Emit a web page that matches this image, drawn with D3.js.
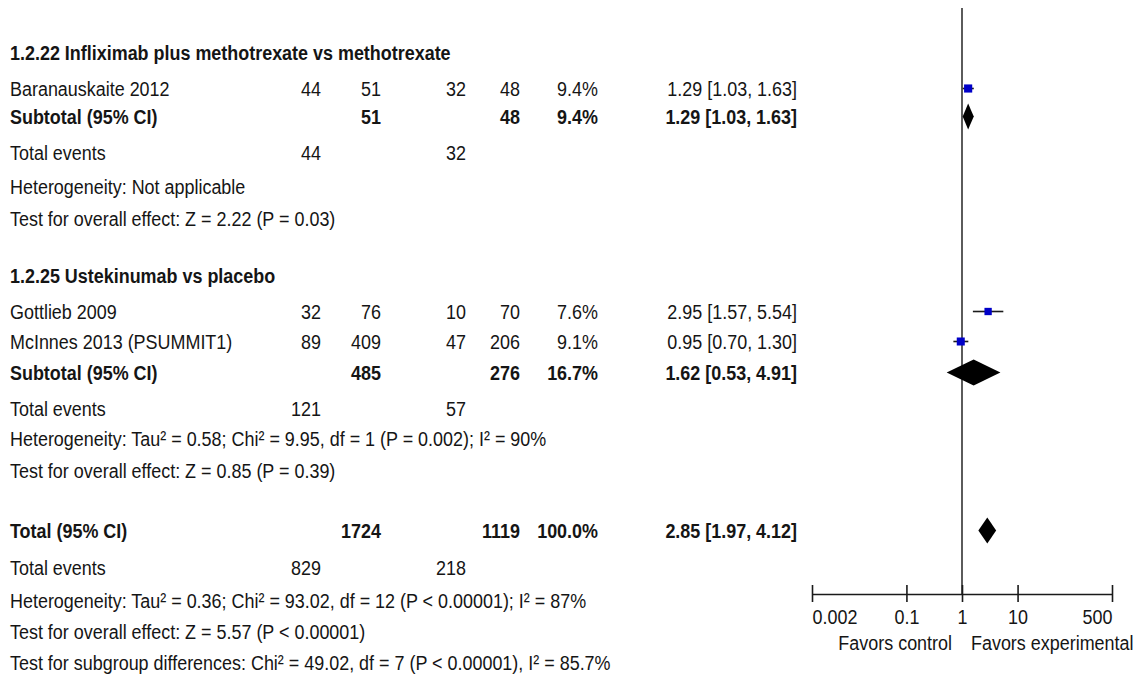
<!DOCTYPE html>
<html>
<head>
<meta charset="utf-8">
<script src="https://cdn.jsdelivr.net/npm/d3@7"></script>
<style>
  html, body { margin: 0; padding: 0; background: #fff; }
  svg { display: block; }
  text { font-family: "Liberation Sans", Arial, sans-serif; font-size: 21px; fill: #151515; }
  .b { font-weight: bold; }
</style>
</head>
<body>
<svg id="chart" width="1138" height="676"></svg>
<script>
// ---- Study-level data ----
const groupTitles = ["1.2.22 Infliximab plus methotrexate vs methotrexate", "1.2.25 Ustekinumab vs placebo"];
const studyNames  = ["Baranauskaite 2012", "Gottlieb 2009", "McInnes 2013 (PSUMMIT1)"];
const studyGroup  = [0, 1, 1];
const eventsExp   = [44, 32, 89];
const totalExp    = [51, 76, 409];
const eventsCtl   = [32, 10, 47];
const totalCtl    = [48, 70, 206];
const weights     = [9.4, 7.6, 9.1];
const studyRR     = [1.29, 2.95, 0.95];
const studyLo     = [1.03, 1.57, 0.70];
const studyHi     = [1.63, 5.54, 1.30];

// ---- Subgroup summaries ----
const subTotalExp  = [51, 485];
const subTotalCtl  = [48, 276];
const subWeight    = [9.4, 16.7];
const subRR        = [1.29, 1.62];
const subLo        = [1.03, 0.53];
const subHi        = [1.63, 4.91];
const subEventsExp = [44, 121];
const subEventsCtl = [32, 57];
const subHetText   = ["Heterogeneity: Not applicable",
                      "Heterogeneity: Tau² = 0.58; Chi² = 9.95, df = 1 (P = 0.002); I² = 90%"];
const subTestText  = ["Test for overall effect: Z = 2.22 (P = 0.03)",
                      "Test for overall effect: Z = 0.85 (P = 0.39)"];

// ---- Overall summary ----
const overallTotals = [1724, 1119];
const overallEvents = [829, 218];
const overallWeight = [100.0];
const overallRR     = [2.85, 1.97, 4.12];
const overallNotes  = ["Heterogeneity: Tau² = 0.36; Chi² = 93.02, df = 12 (P < 0.00001); I² = 87%",
                       "Test for overall effect: Z = 5.57 (P < 0.00001)",
                       "Test for subgroup differences: Chi² = 49.02, df = 7 (P < 0.00001), I² = 85.7%"];

// ---- Axis ----
const tickValues  = [0.002, 0.1, 1, 10, 500];
const tickLabels  = ["0.002", "0.1", "1", "10", "500"];
const sideLabels  = ["Favors control", "Favors experimental"];

// ---- Layout ----
const svg = d3.select("#chart");
const x = d3.scaleLog().domain([0.002, 500]).range([812, 1112]);
const sizeScale = d3.scaleSqrt().domain([0, 10]).range([0, 8.4]);
const fmtW = d => d3.format(".1f")(d) + "%";
const fmtR = (r, l, h) => `${d3.format(".2f")(r)} [${d3.format(".2f")(l)}, ${d3.format(".2f")(h)}]`;
const NARROW = 0.855;   // horizontal squeeze for a condensed sans look

// text baselines of each table line, top to bottom
const baselines = [60, 96, 124, 160, 194, 226, 283, 319, 349, 380, 416, 446, 478, 538, 575, 608, 639, 670];
const col = { name: 10, evE: 321, totE: 381, evC: 466, totC: 520, w: 598, ci: 797 };
const axisY = 594;

// assemble the table rows
const rows = [];
let li = 0;
groupTitles.forEach((title, g) => {
  rows.push({ kind: "title", y: baselines[li++], name: title });
  studyNames.forEach((n, i) => {
    if (studyGroup[i] !== g) return;
    rows.push({ kind: "study", y: baselines[li++], name: n, i });
  });
  rows.push({ kind: "sub", y: baselines[li++], g });
  rows.push({ kind: "events", y: baselines[li++], a: subEventsExp[g], b: subEventsCtl[g] });
  rows.push({ kind: "note", y: baselines[li++], name: subHetText[g] });
  rows.push({ kind: "note", y: baselines[li++], name: subTestText[g] });
});
rows.push({ kind: "total", y: baselines[li++] });
rows.push({ kind: "events", y: baselines[li++], a: overallEvents[0], b: overallEvents[1] });
overallNotes.forEach(t => rows.push({ kind: "note", y: baselines[li++], name: t }));

const tbl = svg.append("g");
function put(txt, xx, y, anchor, bold) {
  return tbl.append("text")
    .attr("transform", `translate(${xx},${y}) scale(${NARROW},1)`)
    .attr("text-anchor", anchor).attr("class", bold ? "b" : null).text(txt);
}
const mid = y => y - 7.5;

// line of no effect
svg.append("line")
  .attr("x1", x(1)).attr("x2", x(1)).attr("y1", 8).attr("y2", axisY)
  .attr("stroke", "#4a4a4a").attr("stroke-width", 1.8);

const marks = svg.append("g");
function diamond(r, l, h, cy) {
  const hh = 13;
  marks.append("path")
    .attr("d", `M${x(l)},${cy}L${x(r)},${cy - hh}L${x(h)},${cy}L${x(r)},${cy + hh}Z`)
    .attr("fill", "#000");
}

rows.forEach(row => {
  const y = row.y;
  if (row.kind === "title") put(row.name, col.name, y, "start", true);
  else if (row.kind === "note") put(row.name, col.name, y, "start", false);
  else if (row.kind === "events") {
    put("Total events", col.name, y, "start", false);
    put(row.a, col.evE, y, "end", false);
    put(row.b, col.evC, y, "end", false);
  } else if (row.kind === "study") {
    const i = row.i;
    put(row.name, col.name, y, "start", false);
    put(eventsExp[i], col.evE, y, "end", false);
    put(totalExp[i], col.totE, y, "end", false);
    put(eventsCtl[i], col.evC, y, "end", false);
    put(totalCtl[i], col.totC, y, "end", false);
    put(fmtW(weights[i]), col.w, y, "end", false);
    put(fmtR(studyRR[i], studyLo[i], studyHi[i]), col.ci, y, "end", false);
    const cy = mid(y);
    marks.append("line")
      .attr("x1", x(studyLo[i])).attr("x2", x(studyHi[i]))
      .attr("y1", cy).attr("y2", cy)
      .attr("stroke", "#1a1a1a").attr("stroke-width", 1.6);
    const s = sizeScale(weights[i]);
    marks.append("rect")
      .attr("x", x(studyRR[i]) - s / 2).attr("y", cy - s / 2)
      .attr("width", s).attr("height", s)
      .attr("fill", "#0000c8");
  } else if (row.kind === "sub") {
    const g = row.g;
    put("Subtotal (95% CI)", col.name, y, "start", true);
    put(subTotalExp[g], col.totE, y, "end", true);
    put(subTotalCtl[g], col.totC, y, "end", true);
    put(fmtW(subWeight[g]), col.w, y, "end", true);
    put(fmtR(subRR[g], subLo[g], subHi[g]), col.ci, y, "end", true);
    diamond(subRR[g], subLo[g], subHi[g], mid(y));
  } else if (row.kind === "total") {
    put("Total (95% CI)", col.name, y, "start", true);
    put(overallTotals[0], col.totE, y, "end", true);
    put(overallTotals[1], col.totC, y, "end", true);
    put(fmtW(overallWeight[0]), col.w, y, "end", true);
    put(fmtR(overallRR[0], overallRR[1], overallRR[2]), col.ci, y, "end", true);
    diamond(overallRR[0], overallRR[1], overallRR[2], mid(y));
  }
});

// log axis at the bottom
const axis = d3.axisBottom(x).tickValues(tickValues)
  .tickFormat((d, i) => tickLabels[i]).tickSizeOuter(0).tickSizeInner(0).tickPadding(0);
const ag = svg.append("g").attr("transform", `translate(0,${axisY})`).call(axis)
  .attr("font-family", null).attr("font-size", null);
ag.select(".domain").attr("stroke", "#1a1a1a").attr("stroke-width", 1.6);
ag.selectAll(".tick line").attr("y1", -9).attr("y2", 8).attr("stroke", "#1a1a1a").attr("stroke-width", 1.6);
const last = tickValues.length - 1;
ag.selectAll(".tick text")
  .attr("dy", null).attr("y", null)
  .attr("fill", null)
  .attr("transform", `translate(0,30) scale(${NARROW},1)`)
  .attr("text-anchor", (d, i) => i === 0 ? "start" : i === last ? "end" : "middle");

svg.append("text").attr("transform", `translate(952,650) scale(${NARROW},1)`)
  .attr("text-anchor", "end").text(sideLabels[0]);
svg.append("text").attr("transform", `translate(971,650) scale(${NARROW},1)`)
  .attr("text-anchor", "start").text(sideLabels[1]);
</script>
</body>
</html>
